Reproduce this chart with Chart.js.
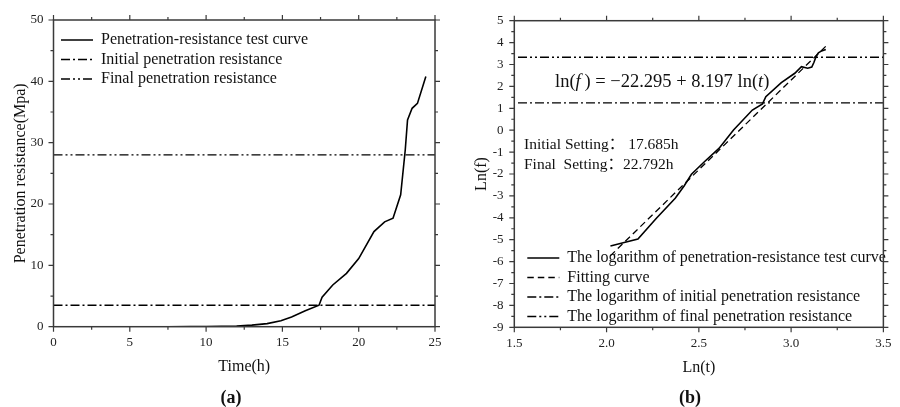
<!DOCTYPE html>
<html><head><meta charset="utf-8">
<script src="https://cdn.jsdelivr.net/npm/chart.js@4.4.0/dist/chart.umd.min.js"></script>
<style>
html,body{margin:0;padding:0;background:#fff;}
#wrap{position:relative;width:900px;height:407px;overflow:hidden;font-family:"Liberation Serif","Noto Sans CJK SC",serif;color:#111;}
canvas{position:absolute;top:0;}
.t{position:absolute;white-space:nowrap;line-height:1;transform:translateY(-50%);}
.c{transform:translate(-50%,-50%);}
</style></head><body>
<div id="wrap">
<canvas id="ca" width="450" height="407" style="left:0"></canvas>
<canvas id="cb" width="450" height="407" style="left:450px"></canvas>
<div class="t" style="left:555px;top:81px;font-size:18.5px">ln(<i>f</i>&thinsp;) = −22.295 + 8.197 ln(<i>t</i>)</div>
<div class="t" style="left:524px;top:144px;font-size:15.5px">Initial Setting：&nbsp;17.685h</div>
<div class="t" style="left:524px;top:164px;font-size:15.5px">Final&nbsp;&nbsp;Setting：22.792h</div>
<div class="t c" style="left:231px;top:397px;font-size:18px;font-weight:bold">(a)</div>
<div class="t c" style="left:690px;top:397px;font-size:18px;font-weight:bold">(b)</div>
</div>
<script>
// ---- Panel (a) data ----
const timeH = [7.5, 9, 10, 11, 12, 13, 14, 14.9, 15.6, 16.5, 17.4, 17.6, 18.3, 19.2, 20.0, 21.0, 21.7, 22.25, 22.75, 23.05, 23.2, 23.5, 23.85, 24.4];
const resistanceMPa = [0.0, 0.01, 0.03, 0.06, 0.12, 0.25, 0.5, 0.98, 1.6, 2.6, 3.5, 4.8, 6.8, 8.7, 11.1, 15.5, 17.1, 17.7, 21.5, 28.8, 33.7, 35.6, 36.4, 40.8];
const initialResistance = 3.5;
const finalResistance = 28;
const xRangeA = [0, 25];
const yRangeA = [0, 50];
const xTicksA = [0, 5, 10, 15, 20, 25];
const yTicksA = [0, 10, 20, 30, 40, 50];
const labelsA = ['Penetration-resistance test curve', 'Initial penetration resistance', 'Final penetration resistance'];

// ---- Panel (b) data ----
const lnT = [2.021, 2.09, 2.17, 2.27, 2.372, 2.42, 2.46, 2.53, 2.609, 2.688, 2.79, 2.845, 2.863, 2.947, 3.02, 3.056, 3.09, 3.112, 3.124, 3.136, 3.148, 3.165, 3.188];
const lnF = [-5.29, -5.14, -4.97, -4.02, -3.11, -2.55, -2.01, -1.44, -0.83, 0.01, 0.92, 1.2, 1.53, 2.17, 2.6, 2.9, 2.83, 2.88, 3.1, 3.38, 3.53, 3.62, 3.69];
const fitLnT = [2.02, 3.2];
const fitLnF = [-5.74, 3.93];
const lnInitial = 1.25;
const lnFinal = 3.33;
const lineStartB = 1.52;
const xRangeB = [1.5, 3.5];
const yRangeB = [-9, 5];
const xTicksB = [1.5, 2.0, 2.5, 3.0, 3.5];
const yTicksB = [-9, -8, -7, -6, -5, -4, -3, -2, -1, 0, 1, 2, 3, 4, 5];
const labelsB = ['The logarithm of penetration-resistance test curve', 'Fitting curve', 'The logarithm of initial penetration resistance', 'The logarithm of final penetration resistance'];

// ---- styling ----
const FONT = '"Liberation Serif", "Times New Roman", serif';
const AXIS = '#3a3a3a';
const INK = '#111';
const DASH_DOT = [9, 3, 2, 3];
const DASH_DOT_DOT = [9, 3, 2, 3, 2, 3];
const DASH = [6.5, 4];

const frameTicks = {
  id: 'frameTicks',
  afterDatasetsDraw(chart, args, o) {
    const {ctx, chartArea: a} = chart;
    const xs = chart.scales.x, ys = chart.scales.y;
    ctx.save();
    ctx.strokeStyle = AXIS; ctx.lineWidth = 1.5;
    ctx.strokeRect(a.left, a.top, a.right - a.left, a.bottom - a.top);
    ctx.lineWidth = 1.2;
    const mids = v => v.slice(1).map((t, i) => (t + v[i]) / 2);
    const drawX = (vals, len) => vals.forEach(v => {
      const p = xs.getPixelForValue(v);
      ctx.moveTo(p, a.bottom); ctx.lineTo(p, a.bottom + len);
      ctx.moveTo(p, a.top); ctx.lineTo(p, a.top - len);
    });
    const drawY = (vals, len) => vals.forEach(v => {
      const p = ys.getPixelForValue(v);
      ctx.moveTo(a.left, p); ctx.lineTo(a.left - len, p);
      ctx.moveTo(a.right, p); ctx.lineTo(a.right + len, p);
    });
    ctx.beginPath();
    drawX(o.xMajor, 5); drawX(mids(o.xMajor), 3);
    drawY(o.yMajor, 5); drawY(mids(o.yMajor), 3);
    ctx.stroke();
    ctx.restore();
  }
};
const legendShift = {
  id: 'legendShift',
  afterLayout(chart, args, o) {
    const l = chart.legend;
    if (!l) return;
    const a = chart.chartArea;
    const h = l.bottom - l.top;
    l.left = a.left + o.dx; l.right = a.right + o.dx;
    l.top = a.top + o.dy; l.bottom = a.top + h + o.dy;
  }
};

function pts(xs, ys) { return xs.map((x, i) => ({x, y: ys[i]})); }
function hline(x0, x1, y) { return [{x: x0, y}, {x: x1, y}]; }

function legendLabels(chart) {
  const items = Chart.defaults.plugins.legend.labels.generateLabels(chart);
  return items.map(it => {
    const ds = chart.data.datasets[it.datasetIndex];
    it.lineDash = ds.borderDash || [];
    it.lineWidth = ds.borderWidth;
    it.strokeStyle = ds.borderColor;
    it.fillStyle = ds.borderColor;
    it.pointStyle = 'line';
    return it;
  });
}

function makeChart(id, cfg) {
  return new Chart(document.getElementById(id), {
    type: 'line',
    data: {datasets: cfg.datasets},
    plugins: [frameTicks, legendShift],
    options: {
      responsive: false, animation: false,
      layout: {padding: {left: 0, top: cfg.top, right: cfg.right, bottom: cfg.bottom}},
      elements: {point: {radius: 0}, line: {tension: 0, borderCapStyle: 'butt'}},
      plugins: {
        tooltip: {enabled: false},
        legend: {
          position: 'chartArea', align: cfg.legendAlign,
          labels: {
            font: {family: FONT, size: 16}, color: INK, padding: 3.5,
            usePointStyle: true, pointStyle: 'line', pointStyleWidth: 32,
            generateLabels: legendLabels
          }
        },
        frameTicks: {xMajor: cfg.xTicks, yMajor: cfg.yTicks},
        legendShift: {dx: cfg.legendDx, dy: cfg.legendDy}
      },
      scales: {
        x: {
          type: 'linear', min: cfg.xRange[0], max: cfg.xRange[1],
          afterBuildTicks: s => { s.ticks = cfg.xTicks.map(v => ({value: v})); },
          afterFit: s => { s.height = 56; },
          grid: {display: false, drawTicks: false}, border: {display: false},
          ticks: {font: {family: FONT, size: 13}, color: '#222', padding: 8.5, maxRotation: 0,
                  callback: cfg.xFmt},
          title: {display: true, text: cfg.xTitle, font: {family: FONT, size: 16}, color: INK,
                  padding: {top: 0, bottom: 6}}
        },
        y: {
          type: 'linear', min: cfg.yRange[0], max: cfg.yRange[1],
          afterBuildTicks: s => { s.ticks = cfg.yTicks.map(v => ({value: v})); },
          afterFit: s => { s.width = cfg.yWidth; },
          grid: {display: false, drawTicks: false}, border: {display: false},
          ticks: {font: {family: FONT, size: 13}, color: '#222', padding: cfg.yPad,
                  callback: v => String(v)},
          title: {display: true, text: cfg.yTitle, font: {family: FONT, size: 16}, color: INK,
                  padding: {top: cfg.yTitlePad, bottom: 0}}
        }
      }
    }
  });
}

makeChart('ca', {
  top: 20, right: 14, bottom: 24.3, yWidth: 53.5, yPad: 10, yTitlePad: 11.5,
  xRange: xRangeA, yRange: yRangeA, xTicks: xTicksA, yTicks: yTicksA,
  xFmt: v => String(v), xTitle: 'Time(h)', yTitle: 'Penetration resistance(Mpa)',
  legendAlign: 'start', legendDx: 4, legendDy: 8.5,
  datasets: [
    {label: labelsA[0], data: pts(timeH, resistanceMPa), borderColor: '#000', borderWidth: 1.6},
    {label: labelsA[1], data: hline(xRangeA[0], xRangeA[1], initialResistance), borderColor: '#000', borderWidth: 1.3, borderDash: DASH_DOT},
    {label: labelsA[2], data: hline(xRangeA[0], xRangeA[1], finalResistance), borderColor: '#000', borderWidth: 1.3, borderDash: DASH_DOT_DOT}
  ]
});

makeChart('cb', {
  top: 20.7, right: 6, bottom: 23.7, yWidth: 64.3, yPad: 10.8, yTitlePad: 22.4,
  xRange: xRangeB, yRange: yRangeB, xTicks: xTicksB, yTicks: yTicksB,
  xFmt: v => v.toFixed(1), xTitle: 'Ln(t)', yTitle: 'Ln(f)',
  legendAlign: 'end', legendDx: 9.5, legendDy: 0.7,
  datasets: [
    {label: labelsB[0], data: pts(lnT, lnF), borderColor: '#000', borderWidth: 1.6},
    {label: labelsB[1], data: pts(fitLnT, fitLnF), borderColor: '#000', borderWidth: 1.3, borderDash: DASH},
    {label: labelsB[2], data: hline(lineStartB, xRangeB[1], lnInitial), borderColor: '#000', borderWidth: 1.3, borderDash: DASH_DOT},
    {label: labelsB[3], data: hline(lineStartB, xRangeB[1], lnFinal), borderColor: '#000', borderWidth: 1.3, borderDash: DASH_DOT_DOT}
  ]
});
</script>
</body></html>
